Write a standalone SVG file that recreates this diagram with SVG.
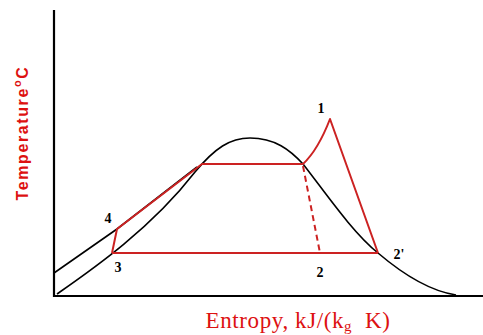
<svg xmlns="http://www.w3.org/2000/svg" width="483" height="335" viewBox="0 0 483 335">
<style>
.ax{stroke:#000;stroke-width:2.2;fill:none}
.bk{stroke:#000;stroke-width:1.6;fill:none}
.rd{stroke:#cc2222;stroke-width:2;fill:none;stroke-linejoin:round}
.lbl{font-family:"Liberation Serif",serif;font-size:14px;font-weight:bold;fill:#000}
</style>
<rect width="483" height="335" fill="#fff"/>
<g id="axes">
<path class="ax" d="M54,10 L54,296 L483,296"/>
</g>
<g id="curves">
<path class="bk" d="M57,294 C90,271 150,230 195,172 C215,148 230,138 250,138 C275,138 290,150 303,164 C325,192 352,232 378,253 C405,276 430,291 456,295"/>
<path class="bk" d="M54,273 L117,229 L197,167"/>
</g>
<g id="cycle">
<path class="rd" d="M112,253 L378,253"/>
<path class="rd" d="M112,253 L117,229 L202,164 L303,164 Q318,150 330,119 L378,253"/>
<path class="rd" d="M303,166 L320,253" stroke-dasharray="6,4" stroke-width="3"/>
</g>
<g id="labels">
<text class="lbl" x="321" y="113" text-anchor="middle">1</text>
<text class="lbl" x="108" y="223" text-anchor="middle">4</text>
<text class="lbl" x="118" y="272" text-anchor="middle">3</text>
<text class="lbl" x="320" y="277" text-anchor="middle">2</text>
<text class="lbl" x="399" y="259" text-anchor="middle">2'</text>
</g>
<text x="298" y="328" text-anchor="middle" font-family="Liberation Serif,serif" font-size="23" letter-spacing="0.6" fill="#dd1111" style="white-space:pre">Entropy, kJ/(k<tspan font-size="15" dy="3">g</tspan><tspan dy="-3">  K)</tspan></text>
<text transform="translate(28,133) rotate(-90)" text-anchor="middle" font-family="Liberation Sans Narrow,Liberation Sans,sans-serif" font-weight="bold" font-size="16" letter-spacing="1.6" fill="#dd1111">Temperature<tspan font-size="11" dy="-7">o</tspan><tspan dy="7">C</tspan></text>
</svg>
